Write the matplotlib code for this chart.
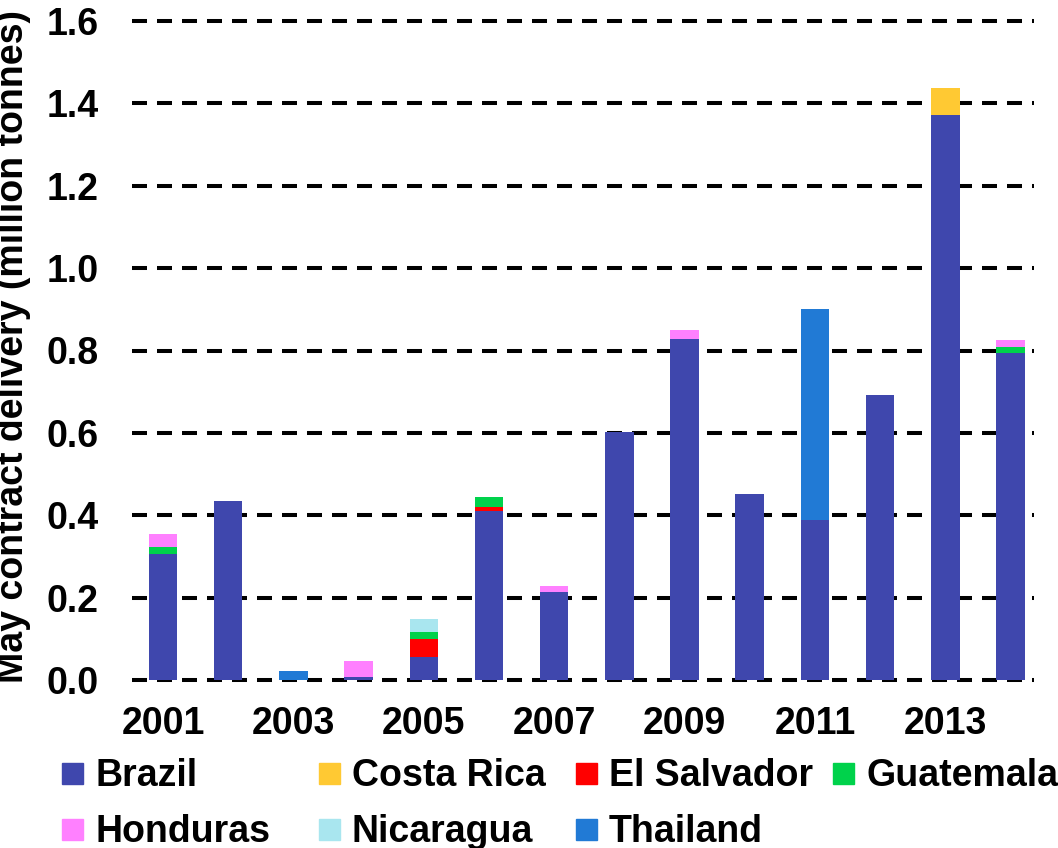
import matplotlib
matplotlib.use("Agg")
import matplotlib.pyplot as plt
from matplotlib.patches import Rectangle
import numpy as np

plt.rcParams['font.family'] = ['Liberation Sans', 'DejaVu Sans']
plt.rcParams['font.weight'] = 'bold'
plt.rcParams['lines.scale_dashes'] = False

years = [2001, 2002, 2003, 2004, 2005, 2006, 2007,
         2008, 2009, 2010, 2011, 2012, 2013, 2014]

countries = ['Brazil', 'Costa Rica', 'El Salvador', 'Guatemala',
             'Honduras', 'Nicaragua', 'Thailand']

brazil      = [0.305, 0.435, 0.000, 0.008, 0.057, 0.411, 0.213,
               0.602, 0.827, 0.452, 0.388, 0.692, 1.372, 0.793]
costa_rica  = [0.000, 0.000, 0.000, 0.000, 0.000, 0.000, 0.000,
               0.000, 0.000, 0.000, 0.000, 0.000, 0.065, 0.000]
el_salvador = [0.000, 0.000, 0.000, 0.000, 0.042, 0.010, 0.000,
               0.000, 0.000, 0.000, 0.000, 0.000, 0.000, 0.000]
guatemala   = [0.017, 0.000, 0.000, 0.000, 0.017, 0.023, 0.000,
               0.000, 0.000, 0.000, 0.000, 0.000, 0.000, 0.015]
honduras    = [0.032, 0.000, 0.000, 0.039, 0.000, 0.000, 0.016,
               0.000, 0.023, 0.000, 0.000, 0.000, 0.000, 0.017]
nicaragua   = [0.000, 0.000, 0.000, 0.000, 0.031, 0.000, 0.000,
               0.000, 0.000, 0.000, 0.000, 0.000, 0.000, 0.000]
thailand    = [0.000, 0.000, 0.022, 0.000, 0.000, 0.000, 0.000,
               0.000, 0.000, 0.000, 0.512, 0.000, 0.000, 0.000]

series = [brazil, costa_rica, el_salvador, guatemala,
          honduras, nicaragua, thailand]
colors = ['#3F47AD', '#FFC933', '#FF0000', '#00D24B',
          '#FF80FF', '#A9E6EF', '#217AD5']

yticks = [0.0, 0.2, 0.4, 0.6, 0.8, 1.0, 1.2, 1.4, 1.6]
xtick_years = [2001, 2003, 2005, 2007, 2009, 2011, 2013]

W, H = 1058, 848
fig = plt.figure(figsize=(W / 100, H / 100), dpi=100)
ax = fig.add_axes([132 / W, (H - 680) / H, 902 / W, 659 / H])

# dashed horizontal grid behind the bars
for yv in yticks:
    ax.axhline(yv, color='black', lw=2.9, dashes=(10.8, 7.2),
               zorder=0, clip_on=False)

bottom = np.zeros(len(years))
for name, vals, c in zip(countries, series, colors):
    v = np.array(vals)
    ax.bar(years, v, width=0.437, bottom=bottom, color=c,
           edgecolor='none', zorder=2, label=name)
    bottom += v

ax.set_xlim(2000.525, 2014.36)
ax.set_ylim(0, 1.6)
ax.set_yticks(yticks)
ax.set_yticklabels([f'{t:.1f}' for t in yticks], fontsize=27, fontweight='bold')
ax.set_xticks(xtick_years)
ax.set_xticklabels([str(y) for y in xtick_years], fontsize=27, fontweight='bold')
ax.tick_params(axis='y', length=0, pad=24)
ax.tick_params(axis='x', length=0, pad=19)
for s in ax.spines.values():
    s.set_visible(False)

fig.text(23 / W, 165 / H, 'May contract delivery (million tonnes)',
         rotation=90, rotation_mode='anchor', ha='left', va='baseline',
         fontsize=27, fontweight='bold')

# legend laid out as a 4-column grid
for i, (name, c) in enumerate(zip(countries, colors)):
    col, row = i % 4, i // 4
    x0 = 62 + col * 257
    yc = 773 + row * 56
    fig.patches.append(Rectangle((x0 / W, (H - yc - 10.5) / H), 21 / W, 21 / H,
                                 transform=fig.transFigure, color=c,
                                 figure=fig))
    fig.text((x0 + 33) / W, (H - yc - 13.5) / H, name, ha='left',
             va='baseline', fontsize=27, fontweight='bold')

fig.savefig('out.png', dpi=100)
